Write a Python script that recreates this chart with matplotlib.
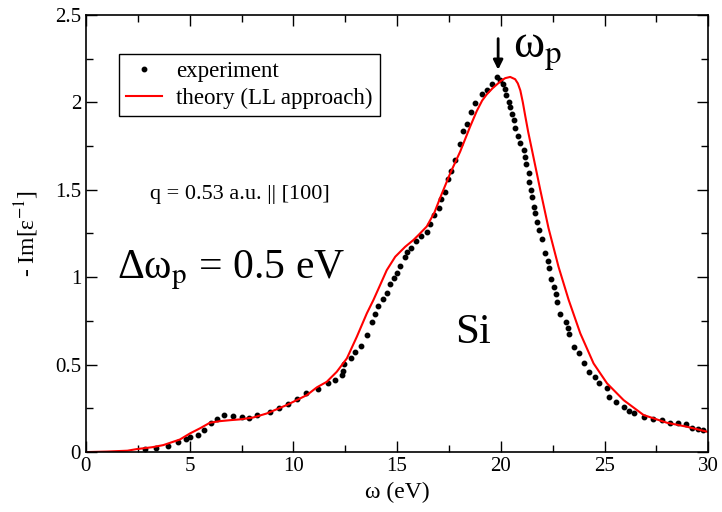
import matplotlib
matplotlib.use('Agg')
import matplotlib.pyplot as plt
from matplotlib.ticker import MultipleLocator

plt.rcParams['font.family'] = ['Liberation Serif', 'DejaVu Serif']
plt.rcParams['mathtext.fontset'] = 'stix'

# experiment (dots)
exp_w = [2.85, 3.38, 3.97, 4.42, 4.82, 5.02, 5.42, 5.69, 6.01, 6.3, 6.67, 7.07, 7.54, 7.88,
         8.23, 8.88, 9.31, 9.73, 10.16, 10.61, 11.18, 11.69, 12.01, 12.33, 12.38, 12.46,
         12.78, 12.98, 13.27, 13.54, 13.78, 13.94, 14.1, 14.34, 14.53, 14.66, 14.87, 14.98,
         15.15, 15.39, 15.47, 15.66, 15.9, 16.14, 16.43, 16.59, 16.79, 17.0, 17.11, 17.32,
         17.43, 17.59, 17.8, 18.02, 18.2, 18.36, 18.55, 18.76, 19.08, 19.32, 19.57, 19.8,
         19.97, 20.1, 20.21, 20.26, 20.37, 20.45, 20.53, 20.64, 20.69, 20.85, 20.94, 21.1,
         21.18, 21.23, 21.34, 21.38, 21.45, 21.5, 21.58, 21.66, 21.74, 21.82, 21.98, 22.14,
         22.25, 22.34, 22.42, 22.54, 22.64, 22.7, 22.87, 23.14, 23.22, 23.3, 23.54, 23.78,
         24.02, 24.23, 24.52, 24.73, 25.12, 25.2, 25.55, 25.92, 26.16, 26.44, 26.88, 27.32,
         27.77, 28.14, 28.53, 28.93, 29.22, 29.49, 29.75]
exp_y = [0.017, 0.025, 0.036, 0.057, 0.076, 0.088, 0.097, 0.126, 0.164, 0.187, 0.213, 0.206,
         0.202, 0.196, 0.212, 0.227, 0.252, 0.275, 0.301, 0.339, 0.362, 0.393, 0.41, 0.442,
         0.462, 0.502, 0.54, 0.57, 0.606, 0.667, 0.744, 0.79, 0.837, 0.875, 0.911, 0.959,
         0.994, 1.026, 1.066, 1.117, 1.144, 1.165, 1.209, 1.236, 1.26, 1.303, 1.353, 1.396,
         1.446, 1.489, 1.559, 1.608, 1.67, 1.76, 1.834, 1.878, 1.943, 1.998, 2.048, 2.071,
         2.105, 2.147, 2.128, 2.105, 2.077, 2.042, 2.004, 1.975, 1.934, 1.9, 1.852, 1.808,
         1.77, 1.728, 1.69, 1.648, 1.594, 1.546, 1.499, 1.457, 1.403, 1.365, 1.318, 1.268,
         1.22, 1.137, 1.093, 1.051, 0.988, 0.946, 0.902, 0.856, 0.788, 0.742, 0.708, 0.675,
         0.602, 0.565, 0.511, 0.459, 0.431, 0.393, 0.364, 0.316, 0.284, 0.259, 0.236, 0.221,
         0.202, 0.189, 0.183, 0.164, 0.164, 0.16, 0.137, 0.133, 0.126]

# theory (LL approach)
th_w = [0, 1, 2, 2.44, 3.2, 3.73, 4.53, 5.02, 5.5, 5.98, 6.46, 7.0, 7.43, 8.07, 8.72, 9.68,
        10.65, 11.13, 11.61, 12.09, 12.58, 13.06, 13.54, 13.86, 14.2, 14.5, 14.91, 15.39,
        15.79, 16.03, 16.43, 16.8, 17.08, 17.56, 18.04, 18.52, 18.84, 19.1, 19.32, 19.6,
        19.81, 20.0, 20.21, 20.45, 20.69, 20.82, 20.94, 21.06, 21.18, 21.32, 21.5, 21.9,
        22.3, 22.78, 23.27, 23.83, 24.47, 25.12, 25.92, 26.88, 28.0, 28.97, 30.0]
th_y = [0, 0.003, 0.008, 0.017, 0.028, 0.04, 0.072, 0.107, 0.136, 0.168, 0.177, 0.183,
        0.187, 0.198, 0.221, 0.269, 0.326, 0.37, 0.402, 0.459, 0.536, 0.66, 0.793, 0.87,
        0.96, 1.04, 1.117, 1.174, 1.213, 1.241, 1.29, 1.37, 1.455, 1.594, 1.718, 1.861,
        1.95, 2.01, 2.045, 2.08, 2.102, 2.122, 2.138, 2.145, 2.132, 2.108, 2.068, 2.0,
        1.92, 1.83, 1.728, 1.5, 1.28, 1.06, 0.87, 0.679, 0.507, 0.393, 0.297, 0.212,
        0.168, 0.145, 0.115]

fig = plt.figure(figsize=(7.22, 5.12), dpi=100)
ax = fig.add_axes([0.119, 0.117, 0.862, 0.854])

ax.plot(exp_w, exp_y, 'o', color='black', ms=3.2, label='experiment')
ax.plot(th_w, th_y, '-', color='red', lw=1.5, label='theory (LL approach)')

ax.set_xlim(0, 30)
ax.set_ylim(0, 2.5)
ax.set_xticks([0, 5, 10, 15, 20, 25, 30])
ax.set_xticklabels(['0', '5', '10', '15', '20', '25', '30'])
ax.set_yticks([0, 0.5, 1, 1.5, 2, 2.5])
ax.set_yticklabels(['0', '0.5', '1', '1.5', '2', '2.5'])
ax.xaxis.set_minor_locator(MultipleLocator(2.5))
ax.yaxis.set_minor_locator(MultipleLocator(0.25))
ax.tick_params(which='both', direction='in', top=True, right=True, labelsize=15, width=1)
ax.tick_params(which='major', length=8)
ax.tick_params(which='minor', length=5)
for s in ax.spines.values():
    s.set_linewidth(1.2)

ax.set_xlabel('ω (eV)', fontsize=17, labelpad=4)
ax.set_ylabel('- Im[ε$^{\\mathrm{-1}}$]', fontsize=17, labelpad=10)

ax.legend(loc='upper left', bbox_to_anchor=(0.053, 0.91), fontsize=16.5, fancybox=False,
          edgecolor='black', framealpha=1, handlelength=1.6, borderpad=0.3,
          labelspacing=0.25, handletextpad=0.6, borderaxespad=0)

ax.text(3.1, 1.47, 'q = 0.53 a.u. || [100]', fontsize=16, va='center')
ax.text(1.5, 1.04, 'Δω$_\\mathrm{p}$ = 0.5 eV', fontsize=30, va='center')
ax.text(17.8, 0.68, 'Si', fontsize=31, va='center')
ax.text(20.6, 2.29, 'ω$_\\mathrm{p}$', fontsize=34, va='center')
ax.annotate('', xy=(19.87, 2.17), xytext=(19.87, 2.38),
            arrowprops=dict(arrowstyle='-|>', color='black', lw=2, mutation_scale=14))

plt.savefig('out.png', dpi=100)
